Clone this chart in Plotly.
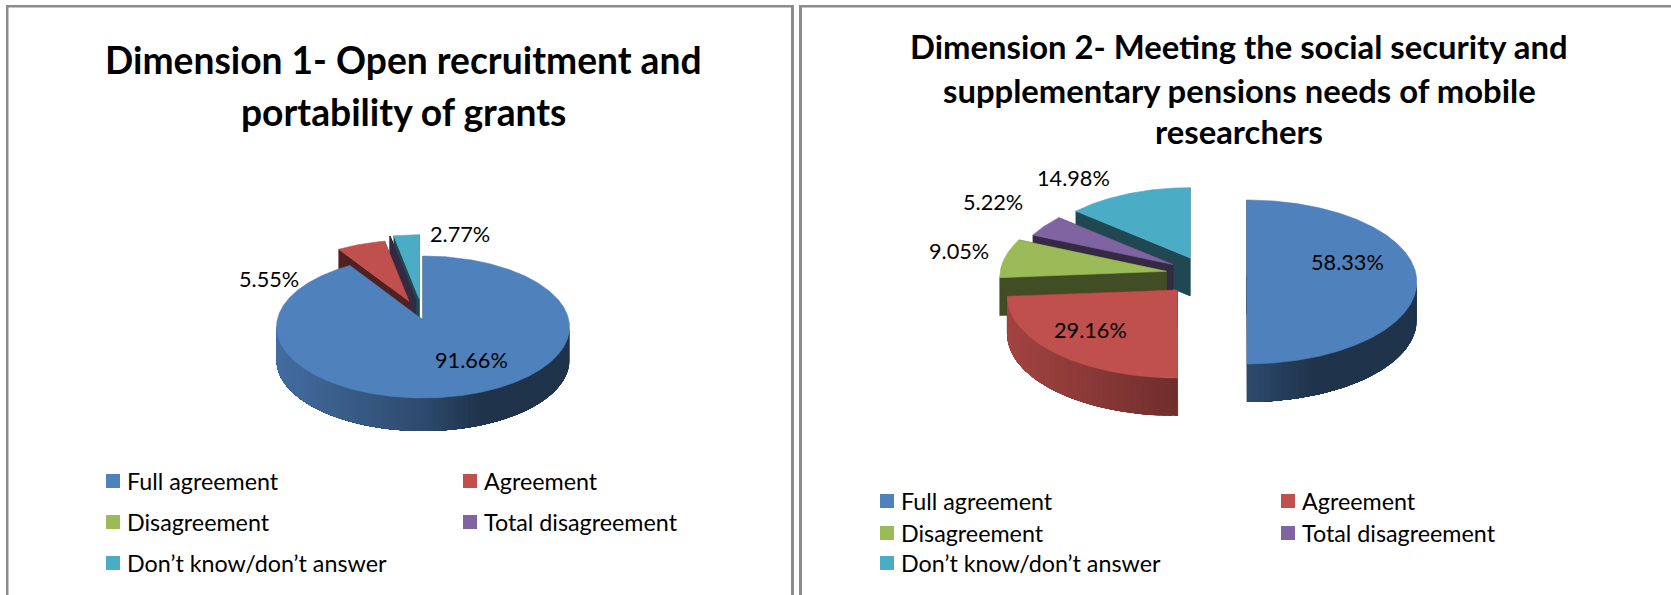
import numpy as np
import plotly.graph_objects as go

# === data ===
categories = ["Full agreement", "Agreement", "Disagreement", "Total disagreement", "Don’t know/don’t answer"]
values_d1 = [91.66, 5.55, 0, 0, 2.77]
values_d2 = [58.33, 29.16, 9.05, 5.22, 14.98]
title_d1 = ["Dimension 1- Open recruitment and", "portability of grants"]
title_d2 = ["Dimension 2- Meeting the social security and", "supplementary pensions needs of mobile", "researchers"]
colors = ["#4f81bd", "#c0504d", "#9bbb59", "#8064a2", "#4bacc6"]

FONT = "Lato"

# geometry of each tilted pie, in page pixels
# size = per slice factor, the slices at the back look a bit smaller
pie_d1 = dict(cx=423, cy=327, rx=146.5, ry=71, depth=33, apex_dy=-7,
              explode=[0, 0.28, 0.3, 0.3, 0.3], size=[1, 0.96, 1, 1, 1])
pie_d2 = dict(cx=1206, cy=282, rx=170, ry=82, depth=38, apex_dy=-6,
              explode=[0.24, 0.24, 0.24, 0.24, 0.24], size=[1, 1, 0.98, 0.93, 0.93])
labels_d1 = {0: (471, 360), 1: (269, 279), 4: (460, 234)}
labels_d2 = {0: (1347, 262), 1: (1090, 330), 2: (959, 251), 3: (993, 202), 4: (1073, 178)}


def scale(hex_color, f):
    rgb = [int(hex_color[i:i + 2], 16) for i in (1, 3, 5)]
    return "rgb(%d,%d,%d)" % tuple(min(255, int(c * f)) for c in rgb)


def poly(fig, xs, ys, color, width=0.6):
    fig.add_trace(go.Scatter(x=list(xs), y=list(ys), mode="lines", fill="toself",
                             fillcolor=color, line=dict(color=color, width=width),
                             showlegend=False, hoverinfo="skip"))


def draw_pie(fig, values, g):
    total = sum(values)
    edges = np.cumsum([0] + [v / total * 360 for v in values])
    slices = []
    for i, v in enumerate(values):
        a0, a1 = edges[i], edges[i + 1]
        mid = np.deg2rad((a0 + a1) / 2)
        ox = g["cx"] + g["explode"][i] * g["rx"] * np.sin(mid)
        oy = g["cy"] - g["explode"][i] * g["ry"] * np.cos(mid)
        slices.append((oy, i, a0, a1, ox))

    # back slices first, the front ones paint over them
    for oy, i, a0, a1, ox in sorted(slices, key=lambda s: s[0]):
        col = colors[i]
        d = g["depth"]
        rx = g["rx"] * g["size"][i]
        ry = g["ry"] * g["size"][i]
        ax, ay = ox, oy + g["apex_dy"]

        # cut faces
        for a in (a0, a1):
            t = np.deg2rad(a)
            px, py = ox + rx * np.sin(t), oy - ry * np.cos(t)
            poly(fig, [ax, px, px, ax, ax], [ay, py, py + d, ay + d, ay], scale(col, 0.42))

        # outer rim, only the part facing the viewer, cut in strips for the gradient.
        # each strip runs on to the end of the rim so no seams show between them
        lo, hi = max(a0, 90), min(a1, 270)
        if hi > lo:
            for s0 in np.arange(lo, hi, 2.0):
                t = np.deg2rad(np.linspace(s0, hi, 60))
                xs = ox + rx * np.sin(t)
                ys = oy - ry * np.cos(t)
                f = np.interp(np.sin(np.deg2rad(s0 + 1)), [-1, 0, 0.4, 1], [0.85, 0.58, 0.4, 0.4])
                poly(fig, np.concatenate([xs, xs[::-1], xs[:1]]),
                     np.concatenate([ys, ys[::-1] + d, ys[:1]]), scale(col, f), width=0)

        # top face
        if a1 > a0:
            t = np.deg2rad(np.linspace(a0, a1, int(a1 - a0) * 2 + 2))
            xs = np.concatenate([[ax], ox + rx * np.sin(t), [ax]])
            ys = np.concatenate([[ay], oy - ry * np.cos(t), [ay]])
            poly(fig, xs, ys, col)


def add_text(fig, x, y, text, size, bold=False, anchor="center"):
    fig.add_annotation(x=x, y=y, text="<b>%s</b>" % text if bold else text, showarrow=False,
                       xanchor=anchor, yanchor="middle",
                       font=dict(family=FONT, size=size, color="#000000"))


def add_legend(fig, col_x, row_y):
    for i, name in enumerate(categories):
        x = col_x[i % 2]
        y = row_y[i // 2]
        fig.add_trace(go.Scatter(x=[x], y=[y], mode="markers", showlegend=False, hoverinfo="skip",
                                 marker=dict(symbol="square", size=14, color=colors[i], line=dict(width=0))))
        add_text(fig, x + 12, y, name, 23.3, anchor="left")


fig = go.Figure()

draw_pie(fig, values_d1, pie_d1)
draw_pie(fig, values_d2, pie_d2)

for idx, pos in labels_d1.items():
    add_text(fig, pos[0], pos[1], "%.2f%%" % values_d1[idx], 21.7)
for idx, pos in labels_d2.items():
    add_text(fig, pos[0], pos[1], "%.2f%%" % values_d2[idx], 21.7)

for line, y in zip(title_d1, [59, 111]):
    add_text(fig, 403, y, line, 37.2, bold=True)
for line, y in zip(title_d2, [46, 90, 131]):
    add_text(fig, 1239, y, line, 32.8, bold=True)

add_legend(fig, [113, 470], [481, 522, 563])
add_legend(fig, [887, 1288], [501, 533, 563])

# panel frames
border = "#8c8c8c"
for x0, y0, x1, y1 in [(6, 5, 794, 7.5), (6, 5, 8.5, 595), (791, 5, 794, 595),
                       (799, 5, 1671, 7.5), (799, 5, 802, 595)]:
    fig.add_shape(type="rect", x0=x0, y0=y0, x1=x1, y1=y1, fillcolor=border, line_width=0)

fig.update_xaxes(range=[0, 1671], visible=False, fixedrange=True)
fig.update_yaxes(range=[595, 0], visible=False, fixedrange=True)
fig.update_layout(width=1671, height=595, margin=dict(l=0, r=0, t=0, b=0),
                  paper_bgcolor="white", plot_bgcolor="white", showlegend=False)

fig.write_html("out.html", config=dict(displayModeBar=False),
               post_script="document.body.style.margin='0';")
